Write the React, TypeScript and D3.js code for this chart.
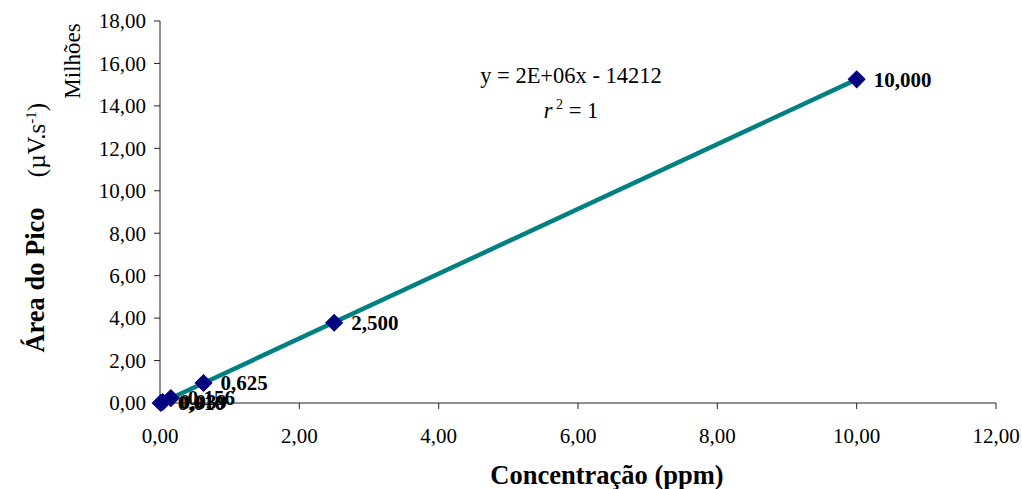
import React from 'react';
import * as d3 from 'd3';

// concentração (ppm) and área do pico (milhões µV.s-1)
const concentrations = [0.0098, 0.039, 0.156, 0.625, 2.5, 10];
const areas = [0.0, 0.045, 0.23, 0.94, 3.78, 15.25];
const pointLabels = ['0,010', '0,039', '0,156', '0,625', '2,500', '10,000'];
const xTicks = [0, 2, 4, 6, 8, 10, 12];
const yTicks = [0, 2, 4, 6, 8, 10, 12, 14, 16, 18];
const slope = 1.5265;
const intercept = -0.014212;

const W = 1022;
const H = 489;
const margin = { top: 21, right: 26, bottom: 86, left: 160 };

const fmt = (v: number) => v.toFixed(2).replace('.', ',');
const font = '"Liberation Serif", "Times New Roman", serif';

const App: React.FC = () => {
  const x = d3.scaleLinear().domain([0, 12]).range([margin.left, W - margin.right]);
  const y = d3.scaleLinear().domain([0, 18]).range([H - margin.bottom, margin.top]);

  const xMin = d3.min(concentrations) || 0;
  const xMax = d3.max(concentrations) || 0;
  const line = d3.line<number>()
    .x(d => x(d))
    .y(d => y(slope * d + intercept));

  // square turned 45deg -> Excel diamond marker
  const diamond = d3.symbol().type(d3.symbolSquare).size(140)() || '';

  return (
    <svg width={W} height={H} style={{ position: 'absolute', left: 0, top: 0, background: '#fff', fontFamily: font }}>
      {/* axes */}
      <line x1={x(0)} x2={x(12)} y1={y(0)} y2={y(0)} stroke="#222" strokeWidth={1} />
      <line x1={x(0)} x2={x(0)} y1={y(0)} y2={y(18)} stroke="#222" strokeWidth={1} />
      {yTicks.map(t => (
        <g key={'y' + t}>
          <line x1={x(0) - 6} x2={x(0)} y1={y(t)} y2={y(t)} stroke="#222" />
          <text x={x(0) - 14} y={y(t)} dy="0.35em" textAnchor="end" fontSize={21} style={{ fontFamily: font }}>{fmt(t)}</text>
        </g>
      ))}
      {xTicks.map(t => (
        <g key={'x' + t}>
          <line x1={x(t)} x2={x(t)} y1={y(0)} y2={y(0) + 6} stroke="#222" />
          <text x={x(t)} y={y(0) + 33} dy="0.35em" textAnchor="middle" fontSize={21} style={{ fontFamily: font }}>{fmt(t)}</text>
        </g>
      ))}

      {/* trend line */}
      <path d={line([xMin, xMax]) || ''} fill="none" stroke="#008080" strokeWidth={4.5} />

      {/* points */}
      {concentrations.map((c, i) => (
        <path key={'p' + i} d={diamond} transform={`translate(${x(c)},${y(areas[i])}) rotate(45)`}
          fill="#000080" stroke="#000080" strokeWidth={1} />
      ))}
      {concentrations.map((c, i) => (
        <text key={'l' + i} x={x(c) + 17} y={y(areas[i])} dy="0.35em" fontSize={21} fontWeight="bold" style={{ fontFamily: font }}>
          {pointLabels[i]}
        </text>
      ))}

      {/* equation */}
      <text x={571} y={75} dy="0.35em" textAnchor="middle" fontSize={22.5} style={{ fontFamily: font }}>y = 2E+06x - 14212</text>
      <text x={571} y={110} dy="0.35em" textAnchor="middle" fontSize={22.5} style={{ fontFamily: font }}>
        <tspan fontStyle="italic">r</tspan>
        <tspan dy={-9} fontSize={14}> 2</tspan>
        <tspan dy={9}> = 1</tspan>
      </text>

      {/* axis titles */}
      <text x={607} y={475} dy="0.35em" textAnchor="middle" fontSize={26.5} fontWeight="bold" style={{ fontFamily: font }}>Concentração (ppm)</text>
      <text transform={`translate(35,280) rotate(-90)`} dy="0.35em" textAnchor="middle" fontSize={26.5} fontWeight="bold" style={{ fontFamily: font }}>
        Área do Pico
      </text>
      <text transform={`translate(36,140) rotate(-90)`} dy="0.35em" textAnchor="middle" fontSize={25} style={{ fontFamily: font }}>
        <tspan>(µV.s</tspan>
        <tspan fontSize={15} dy={-9}>-1</tspan>
        <tspan dy={9}>)</tspan>
      </text>
      <text transform={`translate(72,61) rotate(-90)`} dy="0.35em" textAnchor="middle" fontSize={23} style={{ fontFamily: font }}>Milhões</text>
    </svg>
  );
};

export default App;
